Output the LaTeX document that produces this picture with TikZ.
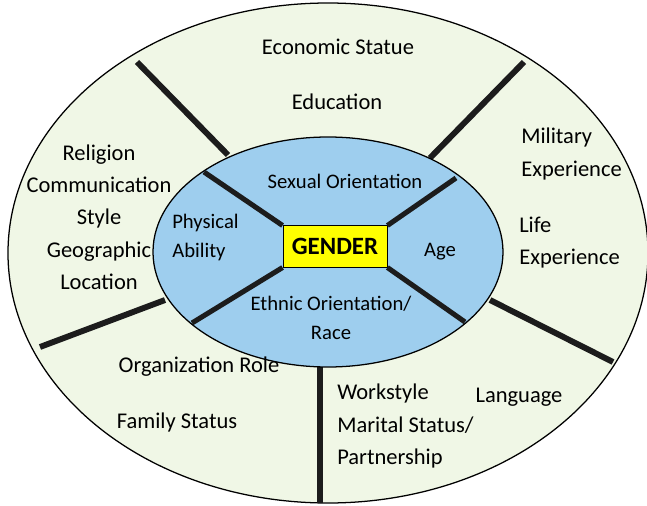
\documentclass[tikz,border=0pt]{standalone}
\usepackage{fontspec}
\setmainfont{Carlito}
\usepackage{tikz}
\definecolor{OUTERcream}{RGB}{240, 247, 230}
\definecolor{INNERblue}{RGB}{158, 206, 238}
\definecolor{BOXyellow}{RGB}{255, 255, 0}
\definecolor{SPOKEblack}{RGB}{28, 28, 28}

\begin{document}
\begin{tikzpicture}[x=0.025cm,y=-0.025cm,
        outerlabel/.style={font=\fontsize{16}{23}\selectfont, inner sep=0pt},
        innerlabel/.style={font=\fontsize{14.7}{20.6}\selectfont, inner sep=0pt},
        spoke/.style={line width=4.2pt, SPOKEblack}]
                \useasboundingbox (0,0) rectangle (647,506);
                % outer ring and its spokes
                \draw[line width=0.9pt, fill=OUTERcream] (328,253) ellipse (320 and 250);
                \foreach \xa/\ya/\xb/\yb in {137/62/228/155, 524/62/430/158, 40/347/165/300, 613/362/490/300, 320/503/320/367}
                    {\draw[spoke] (\xa,\ya) -- (\xb,\yb);}
                % inner ring
                \draw[line width=0.9pt, fill=INNERblue] (328,252) ellipse (175 and 115);
                \node[draw, line width=0.6pt, fill=BOXyellow, inner sep=0pt,
                      minimum width=2.6cm, minimum height=1.03cm, font=\fontsize{17.7}{20}\selectfont\bfseries] (gender) at (335,246.5) {GENDER};
                \draw[spoke, line width=3.6pt] (gender.north west) -- (204,172);
                \draw[spoke, line width=3.6pt] (gender.north east) -- (456,178);
                \draw[spoke, line width=3.6pt] (gender.south west) -- (192,323);
                \draw[spoke, line width=3.6pt] (gender.south east) -- (465,322);
                % inner labels
                \node[innerlabel] (sexual) at (345,181) {Sexual Orientation};
                \node[innerlabel, anchor=west, align=left] (physical) at (172,237.5) {Physical\\Ability};
                \node[innerlabel] (age) at (440,252) {Age};
                \node[innerlabel, align=center] (ethnic) at (331,317.5) {Ethnic Orientation/\\Race};
                % outer labels
                \node[outerlabel] (economic) at (338,47) {Economic Statue};
                \node[outerlabel] (education) at (337,102) {Education};
                \node[outerlabel, align=center] (religion) at (99,217) {Religion\\Communication\\Style\\Geographic\\Location};
                \node[outerlabel, anchor=west, align=left] (military) at (521,154) {Military\\Experience};
                \node[outerlabel, anchor=west, align=left] (life) at (519,242.5) {Life\\Experience};
                \node[outerlabel] (organization) at (199,367) {Organization Role};
                \node[outerlabel] (family) at (177,422) {Family Status};
                \node[outerlabel, anchor=west, align=left] (workstyle) at (337,426) {Workstyle\\Marital Status/\\Partnership};
                \node[outerlabel] (language) at (519,397) {Language};
            \end{tikzpicture}
\end{document}
